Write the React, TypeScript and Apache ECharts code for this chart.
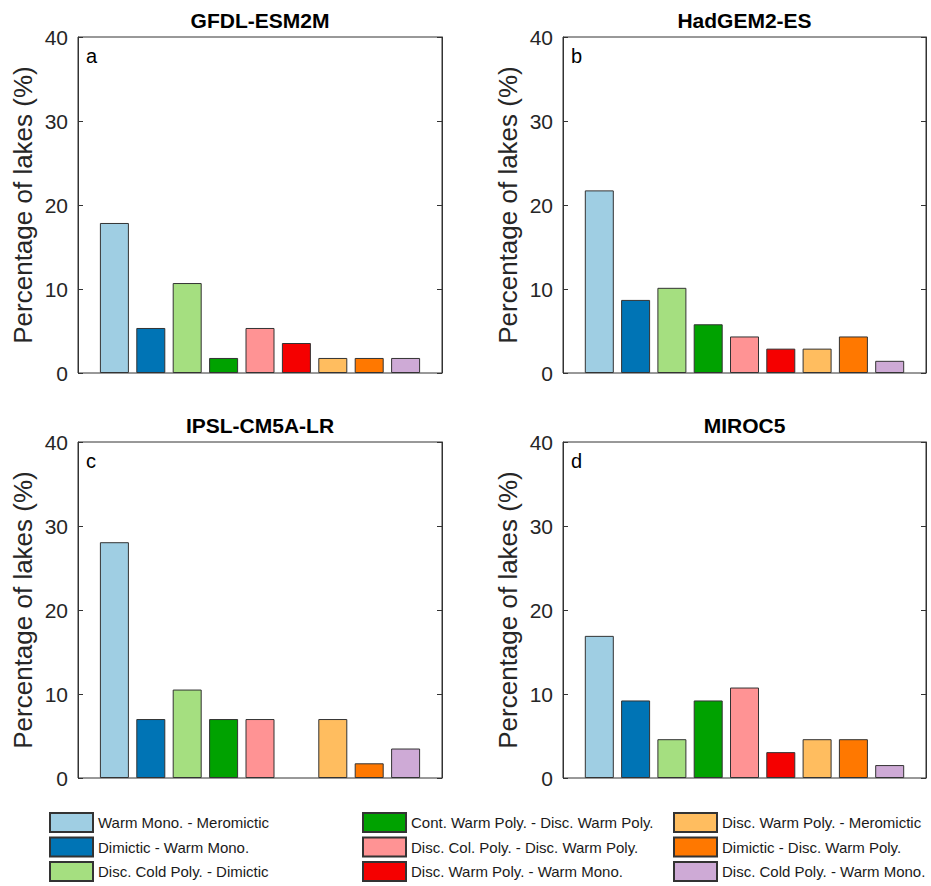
import React, { useEffect, useRef } from "react";
import * as echarts from "echarts";

const categories = [
  "Warm Mono. - Meromictic",
  "Dimictic - Warm Mono.",
  "Disc. Cold Poly. - Dimictic",
  "Cont. Warm Poly. - Disc. Warm Poly.",
  "Disc. Col. Poly. - Disc. Warm Poly.",
  "Disc. Warm Poly. - Warm Mono.",
  "Disc. Warm Poly. - Meromictic",
  "Dimictic - Disc. Warm Poly.",
  "Disc. Cold Poly. - Warm Mono.",
];

const categoryColors = [
  "#9fcee3",
  "#0074b5",
  "#a5df80",
  "#00a200",
  "#ff9394",
  "#f50000",
  "#ffbd5f",
  "#ff7800",
  "#ceaad6",
];

const modelNames = ["GFDL-ESM2M", "HadGEM2-ES", "IPSL-CM5A-LR", "MIROC5"];
const panelLetters = ["a", "b", "c", "d"];

const gfdlValues = [17.86, 5.36, 10.71, 1.79, 5.36, 3.57, 1.79, 1.79, 1.79];
const hadgemValues = [21.74, 8.7, 10.14, 5.8, 4.35, 2.9, 2.9, 4.35, 1.45];
const ipslValues = [28.07, 7.02, 10.53, 7.02, 7.02, 0, 7.02, 1.75, 3.51];
const mirocValues = [16.92, 9.23, 4.62, 9.23, 10.77, 3.08, 4.62, 4.62, 1.54];

const yMin = 0;
const yMax = 40;
const yInterval = 10;
const yAxisTitle = "Percentage of lakes (%)";

const legendColumns = [
  [0, 1, 2],
  [3, 4, 5],
  [6, 7, 8],
];

const FONT = "'Liberation Sans', Arial, Helvetica, sans-serif";

export default function App() {
  const ref = useRef<HTMLDivElement>(null);

  useEffect(() => {
    document.body.style.margin = "0";
    if (!ref.current) return;
    const chart = echarts.init(ref.current, null, { renderer: "svg" });

    const panelValues = [gfdlValues, hadgemValues, ipslValues, mirocValues];
    const grids = [
      { left: 78, top: 37, width: 364, height: 336 },
      { left: 563, top: 37, width: 363, height: 336 },
      { left: 78, top: 442, width: 364, height: 336 },
      { left: 563, top: 442, width: 363, height: 336 },
    ];

    const xAxes: any[] = [];
    const yAxes: any[] = [];
    const series: any[] = [];
    const graphics: any[] = [];

    grids.forEach((g, gi) => {
      xAxes.push({
        gridIndex: gi,
        type: "value",
        min: 0,
        max: categories.length + 1,
        show: false,
      });
      yAxes.push({
        gridIndex: gi,
        type: "value",
        position: "left",
        min: yMin,
        max: yMax,
        interval: yInterval,
        name: yAxisTitle,
        nameLocation: "middle",
        nameGap: 42,
        nameTextStyle: { fontSize: 26, color: "#262626", fontFamily: FONT },
        axisLine: { show: true, lineStyle: { color: "#333333", width: 1 } },
        axisTick: { show: true, inside: true, length: 5, lineStyle: { color: "#333333" } },
        axisLabel: { fontSize: 21, color: "#262626", margin: 10, fontFamily: FONT },
        splitLine: { show: false },
      });
      yAxes.push({
        gridIndex: gi,
        type: "value",
        position: "right",
        min: yMin,
        max: yMax,
        interval: yInterval,
        axisLine: { show: true, lineStyle: { color: "#333333", width: 1 } },
        axisTick: { show: true, inside: true, length: 5, lineStyle: { color: "#333333" } },
        axisLabel: { show: false },
        splitLine: { show: false },
      });

      const vals = panelValues[gi];
      categories.forEach((name, ci) => {
        series.push({
          type: "bar",
          name,
          xAxisIndex: gi,
          yAxisIndex: gi * 2,
          barWidth: 29,
          barGap: "-100%",
          data: [[ci + 1, vals[ci]]],
          itemStyle: {
            color: categoryColors[ci],
            borderColor: vals[ci] > 0 ? "#333333" : "transparent",
            borderWidth: 1,
          },
          emphasis: { disabled: true },
        });
      });

      graphics.push({
        type: "text",
        x: g.left + g.width / 2,
        y: g.top - 17,
        style: {
          text: modelNames[gi],
          fontSize: 21,
          fontWeight: "bold",
          fontFamily: FONT,
          fill: "#000000",
          align: "center",
          verticalAlign: "middle",
        },
      });
      graphics.push({
        type: "text",
        x: g.left + 8,
        y: g.top + 19,
        style: {
          text: panelLetters[gi],
          fontSize: 20,
          fontFamily: FONT,
          fill: "#000000",
          align: "left",
          verticalAlign: "middle",
        },
      });
    });

    const legendLefts = [49, 362, 673];
    const legends = legendColumns.map((col, li) => ({
      data: col.map((i) => categories[i]),
      orient: "vertical",
      left: legendLefts[li],
      top: 812,
      width: 260,
      height: 120,
      padding: 0,
      itemWidth: 43,
      itemHeight: 19,
      itemGap: 3.5,
      icon: "rect",
      selectedMode: false,
      textStyle: { fontSize: 15, color: "#1a1a1a", fontFamily: FONT },
    }));

    chart.setOption({
      animation: false,
      backgroundColor: "#ffffff",
      grid: grids.map((g) => ({
        ...g,
        show: true,
        borderColor: "#333333",
        borderWidth: 1,
        backgroundColor: "#ffffff",
      })),
      xAxis: xAxes,
      yAxis: yAxes,
      legend: legends,
      series,
      graphic: graphics,
    });

    return () => {
      chart.dispose();
    };
  }, []);

  return (
    <div
      ref={ref}
      style={{ position: "absolute", left: 0, top: 0, width: 931, height: 886 }}
    />
  );
}
